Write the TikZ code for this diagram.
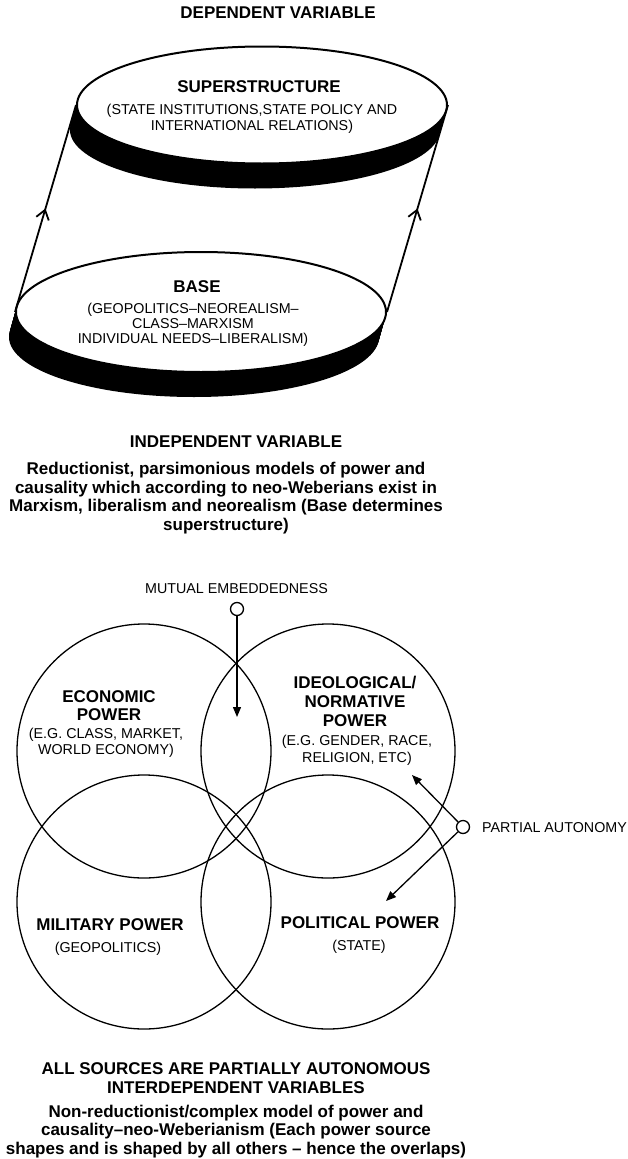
\documentclass[tikz,border=0pt]{standalone}
\usepackage{fontspec}
\setmainfont{Liberation Sans}
\usetikzlibrary{shapes.geometric,arrows.meta,decorations.markings}

\newcommand\hdfont{\bfseries\fontsize{17}{18.5}\selectfont}
\newcommand\smfont{\fontsize{14.3}{16}\selectfont}

\begin{document}
\begin{tikzpicture}[x=1pt,y=-1pt,
  disc/.style={ellipse,draw,line width=2pt,fill=white,minimum width=370pt,minimum height=117pt,inner sep=0pt},
  venn/.style={circle,draw,line width=1.3pt,minimum size=254pt,inner sep=0pt},
  dot/.style={circle,draw,line width=1.3pt,fill=white,minimum size=13pt,inner sep=0pt},
  head/.style={font=\hdfont,align=center,anchor=base,inner sep=0pt},
  sub/.style={font=\smfont,align=center,anchor=base,inner sep=0pt},
  upline/.style={line width=1.8pt,postaction=decorate,decoration={markings,
      mark=at position 0.5 with {\arrow{Straight Barb[length=9pt,width=13pt,line width=1.8pt]}}}},
  pointer/.style={line width=1.3pt,-{Triangle[length=10pt,width=8pt]}}]
  \useasboundingbox (0,0) rectangle (628,1159);

  % base and superstructure (base = last line)
  \node[head] (dep) at (278,19) {DEPENDENT VARIABLE};
  \coordinate (supc) at (262,105);
  \coordinate (basec) at (201,312);
  \foreach \k in {1,...,25}{
    \fill ([shift={(-0.28*\k,\k)}]supc) ellipse [x radius=185, y radius=58.5];
    \fill ([shift={(-0.28*\k,\k)}]basec) ellipse [x radius=185, y radius=60];
  }
  \node[disc] (super) at (supc) {};
  \node[disc,minimum height=120pt] (base) at (basec) {};
  \draw[upline] (base.west) -- (super.west);
  \draw[upline] (base.east) -- (super.east);
  \node[head] (suptitle) at (259,92) {SUPERSTRUCTURE};
  \node[sub] (supsub) at (252,130) {(STATE INSTITUTIONS,STATE POLICY AND\\INTERNATIONAL RELATIONS)};
  \node[head] (basetitle) at (197,292) {BASE};
  \node[sub,font=\fontsize{14.3}{15}\selectfont] (basesub) at (193,343)
    {(GEOPOLITICS--NEOREALISM--\\CLASS--MARXISM\\INDIVIDUAL NEEDS--LIBERALISM)};

  \node[head] (indep) at (236,447) {INDEPENDENT VARIABLE};
  \node[head] (redpar) at (226,530) {Reductionist, parsimonious models of power and\\
    causality which according to neo-Weberians exist in\\
    Marxism, liberalism and neorealism (Base determines\\superstructure)};

  % four sources of power
  \node[venn] (econ) at (144,751) {};
  \node[venn] (ideo) at (328,751) {};
  \node[venn] (mil) at (144,902) {};
  \node[venn] (pol) at (328,902) {};
  \node[head,font=\bfseries\fontsize{17}{18}\selectfont] (econtitle) at (109,720) {ECONOMIC\\POWER};
  \node[sub] (econsub) at (106,754) {(E.G. CLASS, MARKET,\\WORLD ECONOMY)};
  \node[head,font=\bfseries\fontsize{17}{19}\selectfont] (ideotitle) at (355,726) {IDEOLOGICAL/\\NORMATIVE\\POWER};
  \node[sub,font=\fontsize{14.3}{17}\selectfont] (ideosub) at (357,762) {(E.G. GENDER, RACE,\\RELIGION, ETC)};
  \node[head] (miltitle) at (110,930) {MILITARY POWER};
  \node[sub] (milsub) at (108,952) {(GEOPOLITICS)};
  \node[head] (poltitle) at (360,928) {POLITICAL POWER};
  \node[sub] (polsub) at (359,950) {(STATE)};

  \node[sub] (mutlabel) at (236.5,593) {MUTUAL EMBEDDEDNESS};
  \node[dot] (mutdot) at (237,609) {};
  \coordinate (mutend) at (237,717);
  \draw[pointer] (mutdot) -- (mutend);
  \node[dot] (partdot) at (463,827) {};
  \node[sub,anchor=base west] (partlabel) at (482,832) {PARTIAL AUTONOMY};
  \coordinate (ideoend) at (412,775);
  \coordinate (polend) at (386,901);
  \draw[pointer] (partdot) -- (ideoend);
  \draw[pointer] (partdot) -- (polend);

  \node[head] (allsrc) at (236,1093) {ALL SOURCES ARE PARTIALLY AUTONOMOUS\\INTERDEPENDENT VARIABLES};
  \node[head] (nonred) at (236,1154) {Non-reductionist/complex model of power and\\
    causality--neo-Weberianism (Each power source\\
    shapes and is shaped by all others -- hence the overlaps)};
\end{tikzpicture}
\end{document}
